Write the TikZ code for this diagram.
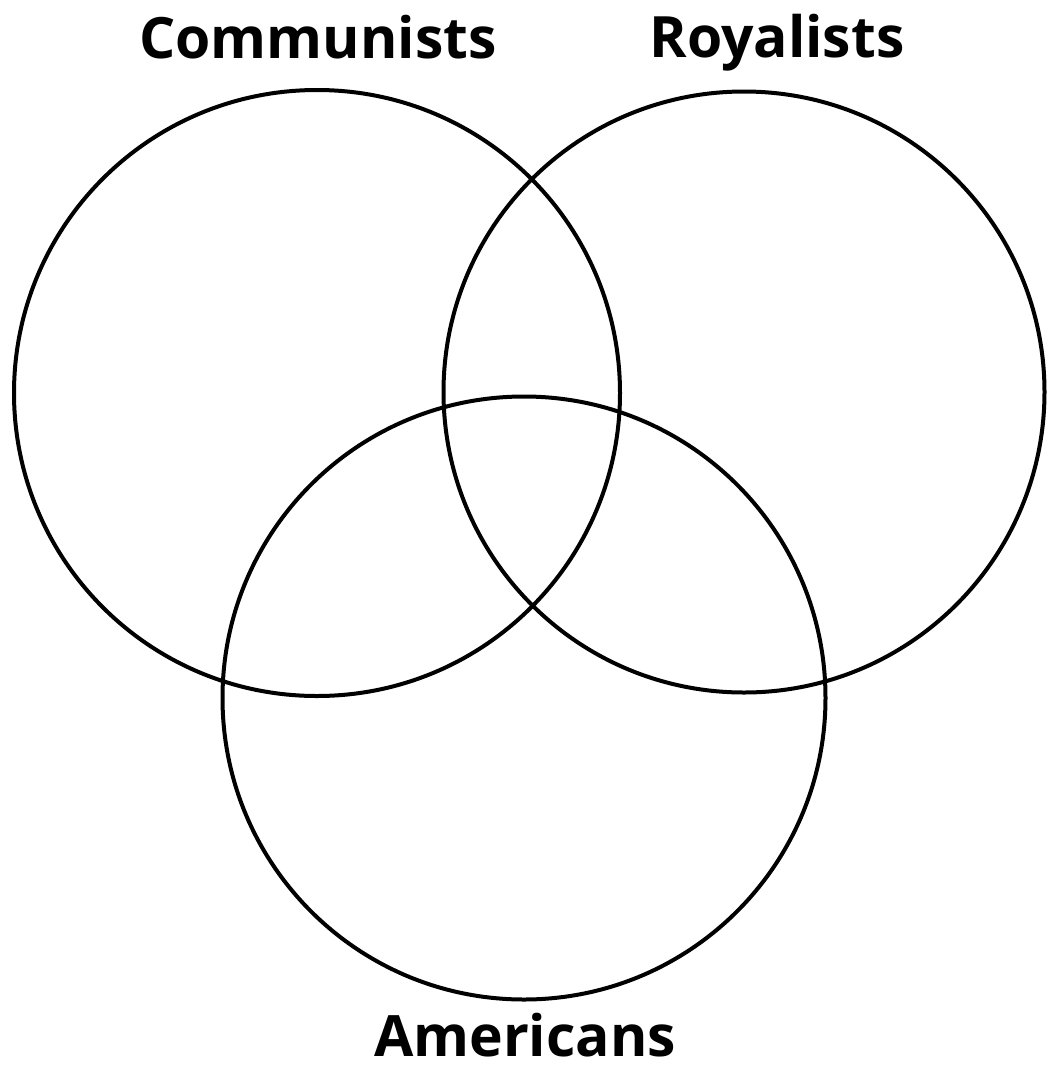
\documentclass[tikz,border=0pt]{standalone}
\usepackage{fontspec}
\setmainfont{Open Sans}
\begin{document}
\begin{tikzpicture}[x=1pt,y=-1pt,
  ring/.style={draw=black,line width=4pt,circle,minimum size=#1,inner sep=0pt},
  lbl/.style={font=\fontsize{57}{57}\selectfont\bfseries,anchor=base,inner sep=0pt}]
\useasboundingbox (0,0) rectangle (1048,1066);
\node[ring=606pt] (comm) at (317,393) {};
\node[ring=601pt] (roy) at (744,392) {};
\node[ring=603pt] (amer) at (524,698) {};
\node[lbl] (tc) at (318,58) {Communists};
\node[lbl] (tr) at (777,57) {Royalists};
\node[lbl] (ta) at (525,1056) {Americans};
\end{tikzpicture}
\end{document}
